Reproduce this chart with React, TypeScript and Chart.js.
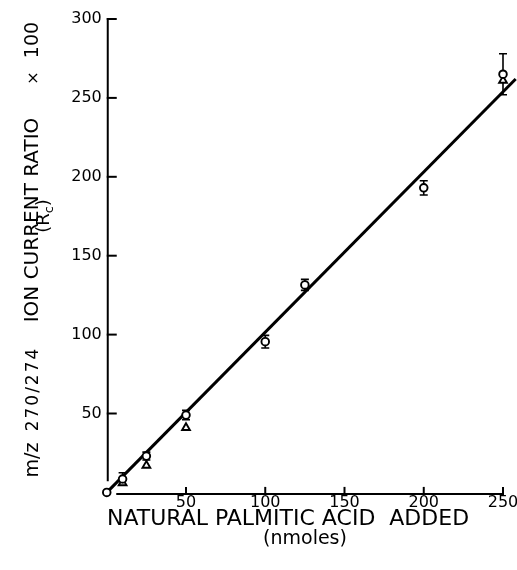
import React, { useEffect, useRef } from 'react';
import { Chart, registerables } from 'chart.js';

Chart.register(...registerables);

// ---- data ----
const doses = [0, 10, 25, 50, 100, 125, 200, 250];
const meanRatio = [0, 8.5, 23, 49, 95.5, 131.5, 193, 265];
const ratioError = [0, 4, 2.5, 3, 4, 3.5, 4.5, 13];
const triangleDoses = [10, 25, 50, 250];
const triangleRatio = [6, 17, 41, 261];
const fitX = [1, 258];
const fitY = [1, 262];
const xTicks = [0, 50, 100, 150, 200, 250];
const yTicks = [0, 50, 100, 150, 200, 250, 300];
const xTitle = 'NATURAL PALMITIC ACID  ADDED';
const xUnit = '(nmoles)';
const yTitleParts = ['m/z', '270/274', 'ION CURRENT RATIO', '×', '100'];
const yTitleSub = ['(R', 'c', ')'];

const FONT = '"DejaVu Sans", sans-serif';

const framePlugin = {
  id: 'frame',
  beforeDatasetsDraw(chart: any) {
    const ctx = chart.ctx;
    const xs = chart.scales.x;
    const ys = chart.scales.y;
    ctx.save();
    ctx.strokeStyle = '#000';
    ctx.lineWidth = 2;
    ctx.lineCap = 'butt';
    const ax = xs.getPixelForValue(0) + 1;
    const ay = ys.getPixelForValue(0) + 1.5;
    // y axis
    ctx.beginPath();
    ctx.moveTo(ax, ys.getPixelForValue(300) - 1);
    ctx.lineTo(ax, ys.getPixelForValue(7));
    ctx.stroke();
    yTicks.forEach((v) => {
      if (v === 0) return;
      const py = ys.getPixelForValue(v);
      ctx.beginPath();
      ctx.moveTo(ax - 1, py);
      ctx.lineTo(ax + 9, py);
      ctx.stroke();
    });
    // x axis
    ctx.beginPath();
    ctx.moveTo(xs.getPixelForValue(6), ay);
    ctx.lineTo(xs.getPixelForValue(250) + 1, ay);
    ctx.stroke();
    xTicks.forEach((v) => {
      if (v === 0) return;
      const px = xs.getPixelForValue(v);
      ctx.beginPath();
      ctx.moveTo(px, ay + 1);
      ctx.lineTo(px, ay - 7);
      ctx.stroke();
    });
    // error bars
    ctx.lineWidth = 1.6;
    doses.forEach((d, i) => {
      const e = ratioError[i];
      if (!e) return;
      const px = xs.getPixelForValue(d);
      const top = ys.getPixelForValue(meanRatio[i] + e);
      const bot = ys.getPixelForValue(meanRatio[i] - e);
      ctx.beginPath();
      ctx.moveTo(px, top);
      ctx.lineTo(px, bot);
      ctx.moveTo(px - 4, top);
      ctx.lineTo(px + 4, top);
      ctx.moveTo(px - 4, bot);
      ctx.lineTo(px + 4, bot);
      ctx.stroke();
    });
    ctx.restore();
  },
  afterDraw(chart: any) {
    const ctx = chart.ctx;
    ctx.save();
    ctx.fillStyle = '#000';
    ctx.textBaseline = 'alphabetic';
    // x title
    ctx.textAlign = 'center';
    ctx.font = `22px ${FONT}`;
    ctx.fillText(xTitle, 288, 525);
    ctx.font = `19px ${FONT}`;
    ctx.fillText(xUnit, 305, 544);
    // y title (rotated), each part centred at its own place along the axis
    const sizes = [19, 17, 20, 16, 19];
    const spacing = [0, 2, 0, 0, 0];
    const centres = [460, 390, 220, 78, 40];
    yTitleParts.forEach((t, i) => {
      ctx.save();
      ctx.translate(38, centres[i]);
      ctx.rotate(-Math.PI / 2);
      ctx.font = `${sizes[i]}px ${FONT}`;
      (ctx as any).letterSpacing = `${spacing[i]}px`;
      ctx.textAlign = 'center';
      ctx.fillText(t, spacing[i] / 2, 0);
      ctx.restore();
    });
    (ctx as any).letterSpacing = '0px';
    // (Rc)
    ctx.save();
    ctx.translate(49, 216);
    ctx.rotate(-Math.PI / 2);
    ctx.textAlign = 'left';
    const subSizes = [18, 13, 18];
    const subShift = [0, 4, 0];
    let sw = 0;
    const subW = yTitleSub.map((t, i) => {
      ctx.font = `${subSizes[i]}px ${FONT}`;
      const w = ctx.measureText(t).width;
      sw += w;
      return w;
    });
    let sx = -sw / 2;
    yTitleSub.forEach((t, i) => {
      ctx.font = `${subSizes[i]}px ${FONT}`;
      ctx.fillText(t, sx, subShift[i]);
      sx += subW[i];
    });
    ctx.restore();
    ctx.restore();
  },
};

export default function App() {
  const ref = useRef<HTMLCanvasElement | null>(null);
  useEffect(() => {
    if (!ref.current) return;
    const chart = new Chart(ref.current, {
      type: 'scatter',
      data: {
        datasets: [
          {
            label: 'mean',
            data: doses.map((d, i) => ({ x: d, y: meanRatio[i] })),
            pointStyle: 'circle',
            pointRadius: 3.8,
            pointBorderWidth: 1.9,
            pointBackgroundColor: '#fff',
            pointBorderColor: '#000',
            showLine: false,
            clip: false,
          } as any,
          {
            label: 'triangles',
            data: triangleDoses.map((d, i) => ({ x: d, y: triangleRatio[i] })),
            pointStyle: 'triangle',
            pointRadius: 4.5,
            pointBorderWidth: 1.9,
            pointBackgroundColor: '#fff',
            pointBorderColor: '#000',
            showLine: false,
            clip: false,
          } as any,
          {
            label: 'fit',
            data: fitX.map((d, i) => ({ x: d, y: fitY[i] })),
            showLine: true,
            borderColor: '#000',
            borderWidth: 3,
            pointRadius: 0,
            clip: false,
          } as any,
        ],
      },
      options: {
        responsive: false,
        animation: false,
        events: [],
        layout: { padding: { top: 19, right: 14, left: 0, bottom: 0 } },
        plugins: { legend: { display: false }, tooltip: { enabled: false } },
        scales: {
          x: {
            type: 'linear',
            min: 0,
            max: 250,
            grid: { display: false, drawTicks: false },
            border: { display: false },
            afterBuildTicks: (s: any) => {
              s.ticks = xTicks.map((v) => ({ value: v }));
            },
            afterFit: (s: any) => {
              s.height = 570 - 492.4;
              s.paddingLeft = 0;
              s.paddingRight = 0;
            },
            ticks: {
              padding: 1,
              color: '#000',
              font: { family: FONT, size: 16 },
              maxRotation: 0,
              callback: (v: any) => (v === 0 ? '' : String(v)),
            },
          },
          y: {
            type: 'linear',
            min: 0,
            max: 300,
            grid: { display: false, drawTicks: false },
            border: { display: false },
            afterBuildTicks: (s: any) => {
              s.ticks = yTicks.map((v) => ({ value: v }));
            },
            afterFit: (s: any) => {
              s.width = 106.75;
              s.paddingTop = 0;
              s.paddingBottom = 0;
            },
            ticks: {
              padding: 5,
              color: '#000',
              font: { family: FONT, size: 16 },
              callback: (v: any) => (v === 0 ? '' : String(v)),
            },
          },
        },
      } as any,
      plugins: [framePlugin],
    });
    return () => chart.destroy();
  }, []);
  return (
    <div style={{ position: 'fixed', left: 0, top: 0, width: 517, height: 570, background: '#fff' }}>
      <canvas ref={ref} width={517} height={570} />
    </div>
  );
}
